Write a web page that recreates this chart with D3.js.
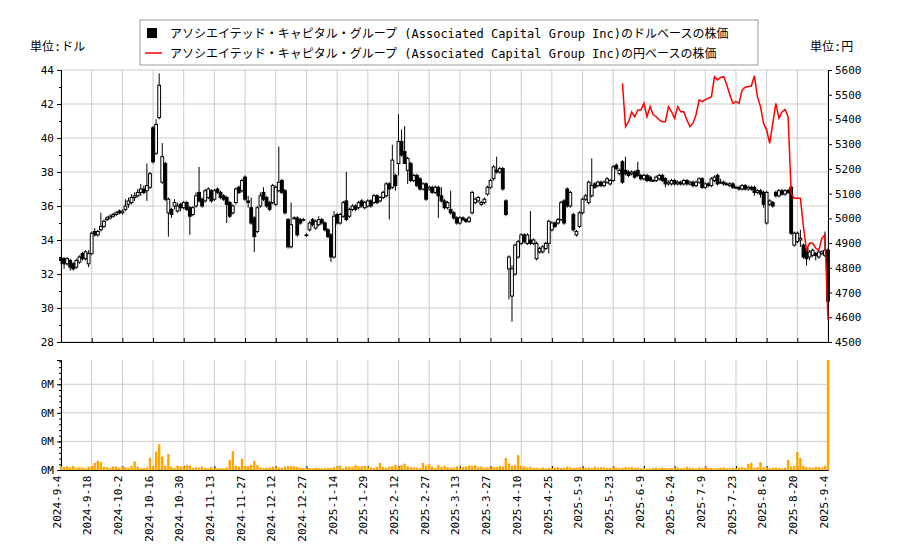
<!DOCTYPE html>
<html><head><meta charset="utf-8">
<script src="https://cdn.jsdelivr.net/npm/d3@7/dist/d3.min.js"></script>
<style>body{margin:0;background:#fff}svg{display:block}svg text{font-family:"DejaVu Sans Mono","Noto Sans CJK JP",monospace}</style>
</head><body><div id="chart"></div>
<script>
// 日付ラベル (10営業日ごと)
const tickLabels=["2024-9-4","2024-9-18","2024-10-2","2024-10-16","2024-10-30","2024-11-13","2024-11-27","2024-12-12","2024-12-27","2025-1-14","2025-1-29","2025-2-12","2025-2-27","2025-3-13","2025-3-27","2025-4-10","2025-4-25","2025-5-9","2025-5-23","2025-6-9","2025-6-24","2025-7-9","2025-7-23","2025-8-6","2025-8-20","2025-9-4"];

const opens=[32.9,32.9,32.6,32.8,32.6,32.4,32.7,33.2,32.9,32.6, 33.2,34.5,34.3,34.6,34.8,35.2,35.3,35.4,35.5,35.7,
35.6,35.8,36.1,36.2,36.5,36.6,36.8,37.0,36.9,37.1, 40.6,39.1,41.2,37.4,38.5,35.6,35.8,36.0,35.7,36.1,
35.9,36.2,35.9,35.5,36.0,36.8,36.4,36.3,36.5,36.9, 36.4,37.0,36.8,36.6,36.5,36.2,35.6,36.2,37.1,36.9,
37.7,36.3,35.9,35.3,34.5,36.0,36.8,36.5,36.2,36.2, 36.1,36.9,37.5,36.9,35.2,33.6,35.3,35.3,35.2,35.2,
34.3,34.6,35.2,34.7,34.9,35.2,35.0,34.6,34.3,33.0, 35.5,35.0,35.4,36.3,35.4,35.8,36.0,35.9,36.3,35.9,
36.0,36.3,36.2,36.6,36.3,36.5,36.6,37.3,37.1,37.8, 38.5,39.8,39.2,38.1,38.5,37.5,37.8,37.6,37.0,37.3,
37.0,37.1,36.8,37.1,36.6,36.3,35.9,35.8,35.6,35.3, 35.0,35.3,35.2,35.1,35.6,36.2,36.3,36.1,36.2,36.7,
37.1,37.6,38.1,38.0,38.2,36.3,32.3,30.7,32.0,33.0, 33.8,34.3,33.8,34.0,33.8,32.9,33.3,33.3,33.5,33.8,
34.6,35.0,35.0,35.2,36.3,37.0,36.0,35.5,34.3,34.8, 35.6,36.4,36.2,36.6,37.3,37.2,37.4,37.2,37.4,37.3,
37.5,38.4,37.9,38.6,38.1,38.0,37.9,38.0,38.1,37.8, 37.6,37.8,37.7,37.5,37.5,37.6,37.8,37.6,37.3,37.3,
37.5,37.3,37.4,37.3,37.5,37.3,37.4,37.2,37.4,37.6, 37.1,37.3,37.2,37.5,37.8,37.4,37.4,37.3,37.2,37.3,
37.1,37.1,37.0,37.2,37.0,37.1,37.1,36.8,36.9,36.8, 35.0,36.1,36.2,36.8,36.6,36.9,36.7,36.9,37.1,33.7,
33.9,34.0,33.7,33.5,33.0,33.1,33.2,33.0,33.2,33.1,33.4];
const highs=[33.0,33.0,33.0,32.9,32.7,32.9,33.1,33.3,33.4,33.4, 34.5,34.7,34.6,35.6,35.2,35.4,35.5,35.6,35.7,35.8,
35.8,36.4,36.5,36.7,36.8,37.0,37.3,37.2,38.5,38.0, 40.7,41.1,43.8,39.7,38.6,36.5,35.9,36.4,36.2,36.2,
36.3,36.3,36.0,36.0,36.8,38.3,36.5,37.0,37.1,37.0, 37.0,37.1,36.9,36.7,36.6,36.3,36.1,37.1,37.2,37.6,
37.8,36.6,36.5,35.4,36.0,36.8,37.1,36.6,36.3,37.3, 37.2,39.5,37.6,37.0,35.3,36.2,35.4,35.4,35.3,35.3,
34.4,35.1,35.3,35.2,35.4,35.3,35.1,34.7,34.4,35.7, 35.6,35.6,36.3,38.0,35.9,36.1,36.1,36.3,36.4,36.3,
36.4,36.4,36.7,36.7,36.6,36.9,37.4,37.4,39.6,37.9, 41.4,40.5,40.7,38.9,38.6,37.9,37.9,37.7,37.4,37.4,
37.2,37.2,37.2,37.2,37.1,36.4,36.3,36.9,35.7,35.4, 35.4,35.4,35.3,35.4,36.9,36.5,36.6,36.3,36.5,37.2,
37.6,38.4,38.9,38.3,38.3,36.4,33.1,32.5,33.8,34.0, 34.4,34.4,34.4,35.7,34.1,33.9,33.6,33.7,33.9,35.2,
35.1,35.1,35.3,36.3,36.4,37.1,36.9,35.6,34.6,35.7, 36.5,36.7,37.5,38.8,37.4,37.5,37.5,37.5,37.7,37.6,
38.4,38.5,38.2,38.7,38.9,38.1,38.1,38.1,38.6,37.9, 37.9,37.9,37.8,37.6,37.8,37.9,37.9,37.7,37.5,37.6,
37.6,37.5,37.5,37.6,37.6,37.5,37.5,37.5,37.7,37.7, 37.4,37.4,37.7,37.8,37.9,37.6,37.5,37.4,37.4,37.4,
37.2,37.2,37.3,37.3,37.2,37.2,37.2,37.0,37.0,36.9, 36.9,36.4,36.3,36.9,37.0,37.0,37.0,37.0,37.2,34.5,
34.5,34.6,33.8,33.6,33.4,33.5,33.3,33.4,33.4,34.5,33.5];
const lows=[32.6,32.3,32.5,32.2,32.2,32.3,32.6,32.8,32.8,32.4, 33.1,34.2,34.2,34.5,34.7,35.1,35.2,35.3,35.4,35.5,
35.5,35.7,35.9,36.1,36.3,36.5,36.6,36.7,36.3,37.0, 38.5,39.0,41.1,37.3,36.3,34.2,35.3,35.8,35.6,35.7,
35.8,35.7,34.3,35.4,35.9,36.2,35.9,36.2,36.4,36.2, 36.3,36.7,36.4,36.3,35.0,35.3,35.5,36.1,36.7,36.8,
36.3,35.9,34.9,33.3,34.4,35.9,36.3,35.9,35.7,36.1, 36.0,36.8,36.7,35.5,33.5,33.5,35.2,34.2,34.9,35.1,
34.2,34.5,34.8,34.6,34.8,34.9,34.5,34.1,32.7,32.9, 34.9,34.9,35.3,35.1,35.3,35.7,35.7,35.8,35.9,35.8,
35.9,35.9,36.1,36.1,36.2,36.4,36.5,35.2,37.0,36.9, 37.8,38.9,38.5,37.3,37.4,37.4,37.1,36.9,36.9,36.3,
36.9,36.7,36.7,35.3,36.2,35.8,35.8,35.5,35.2,34.9, 34.9,35.1,35.0,35.0,35.5,36.1,36.2,36.0,36.1,36.6,
37.0,37.5,37.9,37.9,36.9,35.4,30.5,29.2,31.9,32.9, 33.7,33.8,33.7,33.7,33.7,32.8,33.2,33.2,33.4,33.2,
34.5,34.7,34.9,35.1,34.9,35.9,35.9,34.5,34.2,34.7, 35.5,36.3,36.1,36.5,37.0,37.1,37.1,37.1,37.3,37.2,
37.4,38.1,37.8,37.3,37.8,37.7,37.8,37.6,37.7,37.5, 37.5,37.4,37.4,37.4,37.4,37.5,37.4,37.1,37.2,37.2,
37.2,37.2,37.2,37.2,37.2,37.2,37.1,37.1,37.3,37.0, 37.0,37.1,37.1,37.4,37.2,37.3,37.2,37.2,37.1,37.0,
37.0,36.9,36.9,36.9,36.9,36.9,36.6,36.7,36.5,35.9, 34.9,36.0,35.9,36.5,36.5,36.6,36.6,36.7,34.3,33.6,
33.8,33.6,32.9,32.5,32.8,33.0,32.8,32.9,33.1,33.0,29.8];
const closes=[32.8,32.6,32.9,32.4,32.3,32.8,33.0,32.9,33.3,33.2, 34.4,34.3,34.5,34.8,35.1,35.3,35.4,35.5,35.6,35.6,
35.7,36.0,36.3,36.5,36.6,36.8,37.0,36.8,37.2,37.9, 38.6,40.8,43.1,38.9,36.4,36.4,35.5,36.2,36.0,35.9,
36.2,35.8,35.4,35.9,36.6,36.3,36.0,36.9,37.0,36.3, 36.9,36.8,36.5,36.4,36.1,35.4,36.0,37.0,36.8,37.5,
36.4,36.2,35.0,34.2,35.9,36.6,36.4,36.0,35.8,37.2, 37.1,37.4,36.8,35.6,33.6,34.9,35.3,34.3,35.0,35.2,
34.3,35.0,34.9,35.1,35.2,35.0,34.6,34.2,33.0,35.4, 35.0,35.5,36.2,35.2,35.8,36.0,35.8,36.2,36.0,36.2,
36.3,36.0,36.6,36.2,36.5,36.8,37.3,37.0,38.7,37.2, 39.8,39.0,38.5,38.8,37.5,37.8,37.2,37.0,37.3,36.4,
37.1,36.8,37.1,36.6,36.3,35.9,36.2,35.6,35.3,35.0, 35.3,35.2,35.1,35.3,36.8,36.4,36.5,36.2,36.4,37.1,
37.5,38.3,38.0,38.2,37.0,35.5,33.0,32.3,33.7,33.9, 34.3,33.9,34.3,33.8,34.0,33.8,33.5,33.6,33.8,35.1,
35.0,34.8,35.2,36.2,35.0,36.0,36.8,34.6,34.5,35.6, 36.4,36.6,37.4,37.2,37.1,37.4,37.2,37.4,37.6,37.5,
38.3,38.2,38.1,37.4,37.9,37.8,38.0,37.7,37.8,37.6, 37.8,37.5,37.5,37.5,37.7,37.8,37.5,37.3,37.4,37.5,
37.3,37.4,37.3,37.5,37.3,37.4,37.2,37.4,37.6,37.1, 37.3,37.2,37.6,37.7,37.3,37.4,37.3,37.3,37.3,37.1,
37.1,37.0,37.2,37.0,37.1,37.0,36.8,36.9,36.7,36.1, 36.8,36.3,36.0,36.6,36.9,36.7,36.9,36.8,34.4,34.4,
34.4,34.1,33.0,32.9,33.3,33.4,33.1,33.3,33.3,33.4,30.4];
const volumes=[1200,1100,1300,900,1400,800,1000,900,600,1200, 1300,2500,3200,2800,1100,1000,700,1300,1200,800,
1100,1000,700,1500,3000,1200,600,700,900,4300, 1300,6400,9000,4700,1500,5600,1200,700,1500,1300,
1100,1800,1600,700,1000,900,1200,800,600,1100, 500,600,700,600,900,3500,6600,1500,1200,3900,
1400,1300,1800,3200,1700,900,700,800,900,1200, 1000,900,800,1200,1400,1300,1300,1100,800,700,
600,700,600,800,700,600,700,800,700,1000, 1200,1600,600,1200,1200,1100,1800,1300,1300,1500,
1000,900,700,1100,2500,1100,800,1200,1300,1800, 1000,1700,2200,1300,1000,900,900,700,2500,1600,
2000,1200,700,1800,1100,1500,1000,800,900,1300, 800,1000,1200,1600,1500,1700,1000,1200,800,1000,
900,1100,1000,1400,1300,4200,2300,1500,1800,5200, 1500,1200,900,1100,700,800,600,900,600,800,
700,900,1000,700,800,1200,900,700,800,1100, 600,800,900,700,1200,800,1000,900,700,800,
1100,900,700,800,1000,900,1100,700,800,600, 700,500,600,700,800,600,900,700,600,700,
800,900,600,700,1100,800,700,600,900,700, 1000,800,700,600,700,800,900,600,700,800,
700,900,1000,800,2100,2500,800,1000,2800,1000, 900,700,800,900,700,600,800,3500,1200,1500,
6300,4200,1500,1000,900,800,1100,1000,900,1500,38500];
const yenStart=183;
const yenCloses=[5546,5371,5391,5430,5411,5438,5438,5465,5411,5452, 5420,5411,5398,5391,5391,5452,5431,5405,5452,5431,
5431,5398,5371,5385,5420,5479,5472,5480,5485,5492, 5573,5560,5570,5573,5540,5500,5465,5472,5465,5519,
5530,5533,5535,5576,5492,5452,5384,5357,5303,5384, 5465,5405,5430,5440,5411,5100,5081,5081,5081,4966,
4872,4900,4899,4880,4870,4920,4933,4589];

const W=900,H=550;
const L=61,R=828,T=70,B=342,VT=360,VB=470;
const svg=d3.select('#chart').append('svg').attr('width',W).attr('height',H);

const x=d3.scaleLinear().domain([0,closes.length-1]).range([L,R]);
const y=d3.scaleLinear().domain([28,44]).range([B,T]);
const yYen=d3.scaleLinear().domain([4500,5600]).range([B,T]);
const yVol=d3.scaleLinear().domain([0,38500]).range([VB,VT]);
const tickIdx=tickLabels.map((d,i)=>i*10);

// グリッド
const grid=svg.append('g').attr('stroke','#ccc').attr('stroke-width',1);
tickIdx.forEach(i=>{
  grid.append('line').attr('x1',x(i)).attr('x2',x(i)).attr('y1',T).attr('y2',B);
  grid.append('line').attr('x1',x(i)).attr('x2',x(i)).attr('y1',VT).attr('y2',VB);
});
d3.range(28,45,2).forEach(v=>grid.append('line').attr('x1',L).attr('x2',R).attr('y1',y(v)).attr('y2',y(v)));
[0,10000,20000,30000].forEach(v=>grid.append('line').attr('x1',L).attr('x2',R).attr('y1',yVol(v)).attr('y2',yVol(v)));

// 軸
svg.append('g').attr('transform',`translate(${L},0)`)
  .call(d3.axisLeft(y).tickValues(d3.range(28,45,2)).tickSize(4).tickFormat(d3.format('d')))
  .selectAll('text').attr('font-size',11).attr('fill','#000');
svg.append('g').attr('transform',`translate(${L},0)`)
  .call(d3.axisLeft(y).tickValues(d3.range(29,44,2)).tickSize(2).tickFormat(''))
  .select('.domain').remove();
svg.append('g').attr('transform',`translate(${R},0)`)
  .call(d3.axisRight(yYen).tickValues(d3.range(4500,5601,100)).tickSize(4).tickFormat(d3.format('d')))
  .selectAll('text').attr('font-size',11).attr('fill','#000');
svg.append('g').attr('transform',`translate(0,${B})`)
  .call(d3.axisBottom(x).tickValues(tickIdx).tickSize(-4).tickFormat(''));
svg.append('g').attr('transform',`translate(${L},0)`)
  .call(d3.axisLeft(yVol).tickValues([0,10000,20000,30000]).tickSize(4).tickFormat(d=>(d/1e6).toFixed(0)+'M'))
  .selectAll('text').attr('font-size',11).attr('fill','#000');
svg.append('g').attr('transform',`translate(${L},0)`)
  .call(d3.axisLeft(yVol).tickValues(d3.range(0,38500,2000)).tickSize(2).tickFormat(''))
  .select('.domain').remove();
svg.append('g').attr('transform',`translate(0,${VB})`)
  .call(d3.axisBottom(x).tickValues(tickIdx).tickSize(-4).tickFormat((d,i)=>tickLabels[i]))
  .selectAll('text').attr('font-size',11).attr('fill','#000')
  .attr('transform','rotate(-90)').attr('text-anchor','end').attr('dx','-0.5em').attr('dy','-0.35em');

// 出来高
svg.append('g').selectAll('rect').data(volumes).join('rect')
  .attr('x',(d,i)=>x(i)-1.2).attr('width',2.4)
  .attr('y',d=>yVol(d)).attr('height',d=>VB-yVol(d)).attr('fill','orange');

// ローソク足
const cw=2.8;
const cg=svg.append('g');
closes.forEach((c,i)=>{
  const o=opens[i];
  cg.append('line').attr('x1',x(i)).attr('x2',x(i)).attr('y1',y(highs[i])).attr('y2',y(lows[i]))
    .attr('stroke','#000').attr('stroke-width',1);
  const top=y(Math.max(o,c)),bot=y(Math.min(o,c));
  cg.append('rect').attr('x',x(i)-cw/2).attr('width',cw)
    .attr('y',top).attr('height',Math.max(bot-top,0.8))
    .attr('fill',c<o?'#000':'#fff').attr('stroke','#000').attr('stroke-width',1);
});

// 円ベース
svg.append('path').datum(yenCloses)
  .attr('d',d3.line().x((d,i)=>x(yenStart+i)).y(d=>yYen(d)))
  .attr('fill','none').attr('stroke','red').attr('stroke-width',1.5);

// 単位
svg.append('text').attr('x',30).attr('y',51).attr('font-size',12).text('単位:ドル');
svg.append('text').attr('x',810).attr('y',51).attr('font-size',12).text('単位:円');

// 凡例
const lg=svg.append('g');
lg.append('rect').attr('x',140).attr('y',20).attr('width',618).attr('height',45)
  .attr('fill','#fff').attr('stroke','#999');
lg.append('rect').attr('x',147).attr('y',28).attr('width',10).attr('height',10).attr('fill','#000');
lg.append('text').attr('x',170).attr('y',38).attr('font-size',12)
  .text('アソシエイテッド・キャピタル・グループ (Associated Capital Group Inc)のドルベースの株価');
lg.append('line').attr('x1',145).attr('x2',162).attr('y1',53).attr('y2',53).attr('stroke','red').attr('stroke-width',1.5);
lg.append('text').attr('x',170).attr('y',58).attr('font-size',12)
  .text('アソシエイテッド・キャピタル・グループ (Associated Capital Group Inc)の円ベースの株価');
</script></body></html>
